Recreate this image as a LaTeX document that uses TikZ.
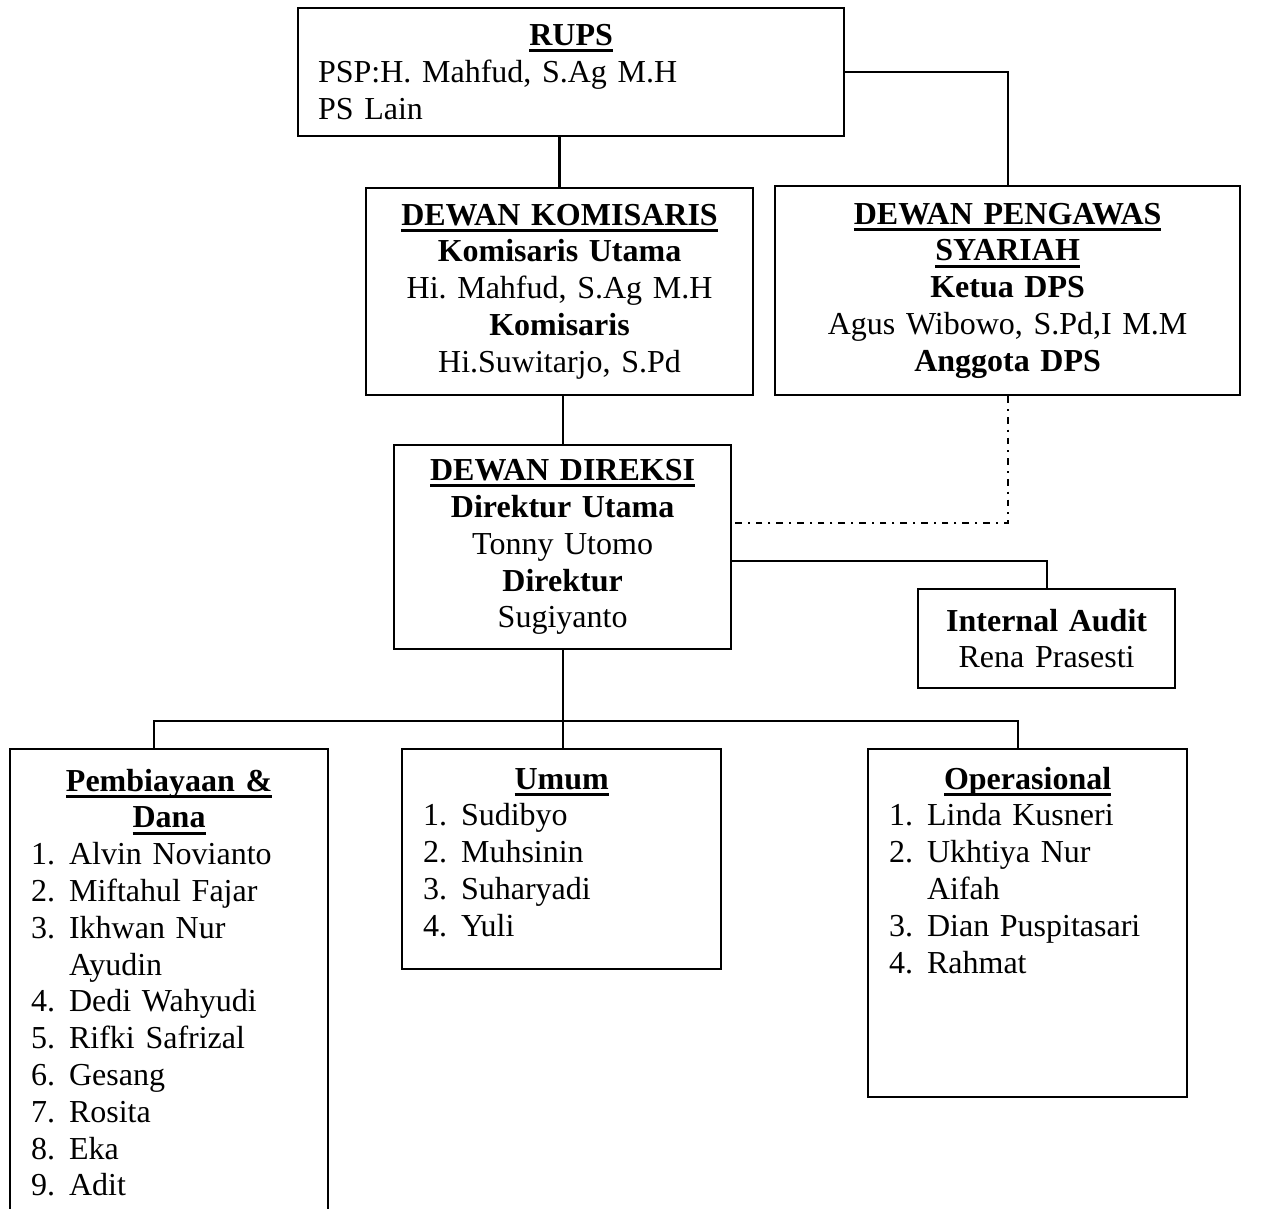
\documentclass[tikz,border=0pt]{standalone}
\usepackage{fontspec}
\setmainfont{Liberation Serif}
\frenchspacing
\newcommand\judul[1]{\leavevmode\textbf{\setbox0\hbox{#1}\rlap{\rule[-2.5pt]{\wd0}{1.1pt}}\box0}}
\newcommand\tengahkan[1]{\hfill#1\hfill\null\par}
\newcommand\butir[2]{\par\noindent\hangindent=14.25pt\hangafter=1\makebox[14.25pt][l]{#1}#2}
\begin{document}
\begin{tikzpicture}[x=0.375pt,y=-0.375pt,
  kotak/.style={draw, line width=0.8pt, font=\fontsize{12}{13.8}\selectfont, anchor=north west},
  tengah/.style={kotak, align=center, inner xsep=4pt},
  daftar/.style={kotak, align=left, inner xsep=7.875pt, inner ysep=4pt, text height=11pt},
  garis/.style={line width=0.8pt},
  titiktitik/.style={garis, dash pattern=on 2.6pt off 2.2pt on 0.75pt off 2.2pt}]
   \useasboundingbox (0,0) rectangle (1271,1208);
   \clip (0,0) rectangle (1271,1208);

   % 枠
   \node[kotak, align=left, inner xsep=7.5pt, minimum width=204.75pt, minimum height=48pt, text width=189.75pt] (rups) at (297,7)
      {\tengahkan{\judul{RUPS}}PSP:H. Mahfud, S.Ag M.H\\PS Lain};
   \node[tengah, minimum width=145.1pt, minimum height=77.6pt, text width=137pt] (kom) at (365,187)
      {\judul{DEWAN KOMISARIS}\\\textbf{Komisaris Utama}\\Hi. Mahfud, S.Ag M.H\\\textbf{Komisaris}\\Hi.Suwitarjo, S.Pd};
   \node[tengah, minimum width=174.4pt, minimum height=78.4pt, text width=166pt] (dps) at (774,185)
      {\judul{DEWAN PENGAWAS}\\\judul{SYARIAH}\\\textbf{Ketua DPS}\\Agus Wibowo, S.Pd,I M.M\\\textbf{Anggota DPS}};
   \node[tengah, minimum width=126.4pt, minimum height=76.5pt, text width=118pt] (dir) at (393,444)
      {\judul{DEWAN DIREKSI}\\\textbf{Direktur Utama}\\Tonny Utomo\\\textbf{Direktur}\\Sugiyanto};
   \node[tengah, minimum width=96.4pt, minimum height=37.1pt, text width=88pt] (ia) at (917,588)
      {\textbf{Internal Audit}\\Rena Prasesti};

   \node[daftar, text width=103.5pt, text height=11.75pt, text depth=180pt] (pem) at (9,748)
      {\tengahkan{\judul{Pembiayaan \&}}\tengahkan{\judul{Dana}}%
       \butir{1.}{Alvin Novianto}\butir{2.}{Miftahul Fajar}\butir{3.}{Ikhwan Nur\newline Ayudin}%
       \butir{4.}{Dedi Wahyudi}\butir{5.}{Rifki Safrizal}\butir{6.}{Gesang}%
       \butir{7.}{Rosita}\butir{8.}{Eka}\butir{9.}{Adit}};
   \node[daftar, text width=103.9pt, text depth=63.5pt] (umum) at (401,748)
      {\tengahkan{\judul{Umum}}%
       \butir{1.}{Sudibyo}\butir{2.}{Muhsinin}\butir{3.}{Suharyadi}\butir{4.}{Yuli}};
   \node[daftar, text width=103.9pt, text depth=111.5pt] (ops) at (867,748)
      {\tengahkan{\judul{Operasional}}%
       \butir{1.}{Linda Kusneri}\butir{2.}{Ukhtiya Nur\newline Aifah}%
       \butir{3.}{Dian Puspitasari}\butir{4.}{Rahmat}};

   % 接続線
   \draw[garis] (rups.south -| kom.north) -- (kom.north);
   \draw[garis] (rups.east) -| (dps.north);
   \draw[garis] (dir.north |- kom.south) -- (dir.north);
   \draw[titiktitik] (dps.south) |- ([yshift=9pt]dir.east);
   \draw[garis] ([yshift=-5.25pt]dir.east) -| (ia.north);
   \draw[garis] (dir.south) -- (dir.south |- umum.north);
   \coordinate (kiri) at (154,721);
   \coordinate (kanan) at (1018,721);
   \draw[garis] (kiri |- pem.north) -- (kiri) -- (kanan) -- (kanan |- ops.north);
\end{tikzpicture}
\end{document}
